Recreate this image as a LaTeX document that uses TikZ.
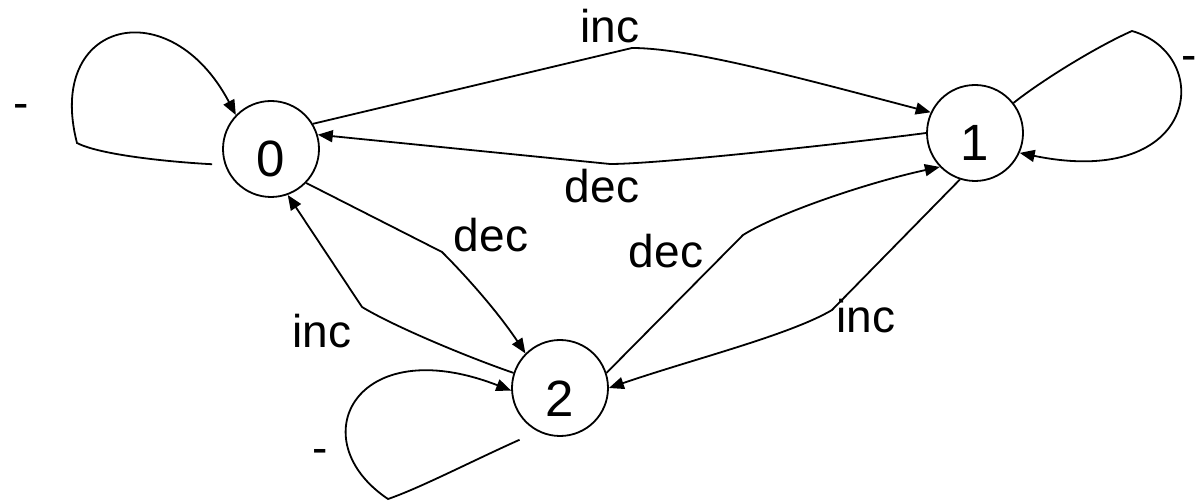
\documentclass[tikz,border=0pt]{standalone}
\usepackage{fontspec}
\setmainfont{Liberation Sans}
\usepackage{tikz}
\usetikzlibrary{arrows.meta}
\definecolor{fsmInk}{RGB}{0,0,0}
\tikzset{
    base/.style={font=\fontsize{23pt}{27pt}\selectfont, text=fsmInk},
    state/.style={circle, draw=fsmInk, line width=0.9pt, fill=white,
                  minimum size=48pt, inner sep=0pt,
                  font=\fontsize{25.5pt}{30pt}\selectfont, text height=28pt, text depth=0pt},
    flow/.style={-{Triangle[length=7.5pt,width=6pt]}, line width=0.9pt, color=fsmInk},
    tag/.style={base, anchor=base, inner sep=0pt}
}

\begin{document}
\begin{tikzpicture}[x=0.5pt, y=-0.5pt]
  \useasboundingbox (0,0) rectangle (1197,501);

  % States
  \node[state] (n0) at (271,149) {0};
  \node[state] (n1) at (975,133) {1};
  \node[state] (n2) at (560,388) {2};

  % 0 <-> 1
  \draw[flow] (n0.31) -- (632,48) .. controls (690,48) and (800,78) .. (n1.155);
  \draw[flow] (n1.180) .. controls (850,143) and (660,164) .. (610,164) -- (n0.17);
  \node[tag] (inc01) at (610,43) {inc};
  \node[tag] (dec10) at (602,203) {dec};

  % 0 <-> 2
  \draw[flow] (n0.-44) -- (442,252) .. controls (470,280) and (500,315) .. (n2.135);
  \draw[flow] (n2.162) .. controls (470,358) and (395,327) .. (362,307) -- (n0.-70);
  \node[tag] (dec02) at (491,252) {dec};
  \node[tag] (inc20) at (322,348) {inc};

  % 1 <-> 2
  \draw[flow] (n2.18) -- (743,235) .. controls (780,212) and (870,182) .. (n1.-136);
  \draw[flow] (n1.-108) -- (832,310) .. controls (790,335) and (690,360) .. (n2.0);
  \node[tag] (dec21) at (666,268) {dec};
  \node[tag] (inc12) at (866,333) {inc};

  % Self loops
  \draw[flow, shorten <=6.3pt] (n0.199) .. controls (170,162) and (100,155) .. (77,143)
       .. controls (45,20) and (170,-10) .. (n0.136);
  \draw[flow] (n1.38) .. controls (1045,78) and (1100,45) .. (1132,31)
       .. controls (1215,55) and (1200,190) .. (n1.-24);
  \draw[flow, shorten <=10pt] (n2.243) .. controls (470,462) and (420,488) .. (388,499)
       .. controls (300,440) and (355,330) .. (n2.183);
  \node[tag] (self0) at (21,119) {-};
  \node[tag, anchor=base west] (self1) at (1181,71) {-};
  \node[tag] (self2) at (320,463) {-};
\end{tikzpicture}
\end{document}
